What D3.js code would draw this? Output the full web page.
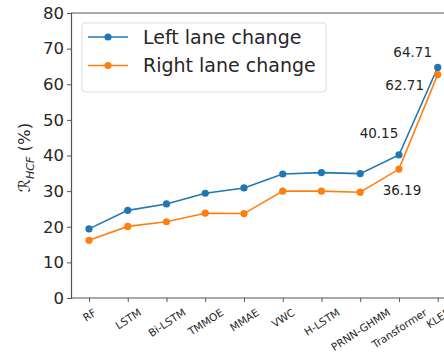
<!DOCTYPE html>
<html>
<head>
<meta charset="utf-8">
<script src="https://cdn.jsdelivr.net/npm/d3@7"></script>
<style>
  html, body { margin: 0; padding: 0; background: #fff; }
  svg { display: block; font-family: "DejaVu Sans", sans-serif; }
</style>
</head>
<body>
<svg id="chart" width="444" height="355"></svg>
<script>
// Methods along the x axis
const methods = ["RF", "LSTM", "Bi-LSTM", "TMMOE", "MMAE", "VWC", "H-LSTM", "PRNN-GHMM", "Transformer", "KLEP"];
// R_HCF (%) per method
const leftLane  = [19.4, 24.6, 26.4, 29.4, 30.9, 34.8, 35.2, 34.9, 40.15, 64.71];
const rightLane = [16.2, 20.1, 21.4, 23.8, 23.7, 30.0, 30.0, 29.7, 36.19, 62.71];
const yTicks = [0, 10, 20, 30, 40, 50, 60, 70, 80];
const seriesNames = ["Left lane change", "Right lane change"];
const seriesColors = ["#1f77b4", "#ff7f0e"];

const svg = d3.select("#chart");
const plot = { left: 71, right: 476, top: 13, bottom: 298 };

const x = d3.scalePoint().domain(methods).range([89, 437.7]);
const y = d3.scaleLinear().domain([0, 80]).range([plot.bottom, plot.top]);

const ink = "#262626";

// Y axis
const yAxis = svg.append("g")
  .attr("transform", `translate(${plot.left},0)`)
  .call(d3.axisLeft(y).tickValues(yTicks).tickSize(4).tickPadding(3));
yAxis.select(".domain").attr("stroke", "#555").attr("stroke-width", 1.2);
yAxis.selectAll(".tick line").attr("stroke", "#555");
yAxis.selectAll(".tick text").attr("font-size", 16.5).attr("fill", ink)
  .attr("font-family", "DejaVu Sans, sans-serif");

// X axis with slanted labels, each label's box centred under its tick
const angle = 33;
const rad = angle * Math.PI / 180;
const xFont = 10.5;
const xAxis = svg.append("g")
  .attr("transform", `translate(0,${plot.bottom})`)
  .call(d3.axisBottom(x).tickSize(4).tickPadding(3));
xAxis.select(".domain").remove();
xAxis.selectAll(".tick line").attr("stroke", "#555");
xAxis.selectAll(".tick text")
  .attr("font-size", xFont).attr("fill", ink)
  .attr("font-family", "DejaVu Sans, sans-serif")
  .attr("text-anchor", "middle")
  .attr("y", 0).attr("dy", "0.35em")
  .each(function () {
    const L = this.getComputedTextLength();
    const h = xFont * 0.75;
    const H = L * Math.sin(rad) + h * Math.cos(rad);
    d3.select(this).attr("transform", `translate(0,${10 + H / 2}) rotate(${-angle})`);
  });

// Bottom and top spines
svg.append("line").attr("x1", plot.left).attr("x2", plot.right)
  .attr("y1", plot.bottom).attr("y2", plot.bottom)
  .attr("stroke", "#555").attr("stroke-width", 1.2);
svg.append("line").attr("x1", plot.left).attr("x2", plot.right)
  .attr("y1", plot.top).attr("y2", plot.top)
  .attr("stroke", "#555").attr("stroke-width", 1.2);

// Y axis title: script R with subscript HCF
const yt = svg.append("text")
  .attr("transform", `translate(30,${(plot.top + plot.bottom) / 2 + 2}) rotate(-90)`)
  .attr("text-anchor", "middle")
  .attr("font-size", 16.5).attr("fill", ink);
yt.append("tspan").attr("font-style", "italic").text("\u211B");
yt.append("tspan").attr("font-style", "italic").attr("font-size", 11).attr("dy", 4).text("HCF");
yt.append("tspan").attr("dy", -4).text(" (%)");

// Series lines and markers
const line = d3.line().x((d, i) => x(methods[i])).y(d => y(d));
[leftLane, rightLane].forEach((vals, k) => {
  svg.append("path").datum(vals)
    .attr("d", line).attr("fill", "none")
    .attr("stroke", seriesColors[k]).attr("stroke-width", 1.6);
  svg.append("g").selectAll("circle").data(vals).join("circle")
    .attr("cx", (d, i) => x(methods[i])).attr("cy", d => y(d))
    .attr("r", 3.6).attr("fill", seriesColors[k]);
});

// Value annotations for the last two methods
const fmt = d3.format(".2f");
const notes = [
  { series: leftLane,  idx: 9, dx: -25, dy: -15 },
  { series: rightLane, idx: 9, dx: -33, dy: 10.5 },
  { series: leftLane,  idx: 8, dx: -20, dy: -22 },
  { series: rightLane, idx: 8, dx: 3,   dy: 21 }
];
notes.forEach(n => {
  const v = n.series[n.idx];
  svg.append("text")
    .attr("x", x(methods[n.idx]) + n.dx)
    .attr("y", y(v) + n.dy)
    .attr("text-anchor", "middle").attr("dy", "0.36em")
    .attr("font-size", 13.5).attr("fill", ink)
    .text(fmt(v));
});

// Legend
const lg = svg.append("g");
lg.append("rect").attr("x", 82).attr("y", 23).attr("width", 244).attr("height", 69)
  .attr("rx", 3).attr("fill", "#fff").attr("stroke", "#ddd").attr("stroke-width", 1);
seriesNames.forEach((name, k) => {
  const cy = 37 + k * 28.5;
  lg.append("line").attr("x1", 88).attr("x2", 128).attr("y1", cy).attr("y2", cy)
    .attr("stroke", seriesColors[k]).attr("stroke-width", 1.6);
  lg.append("circle").attr("cx", 108).attr("cy", cy).attr("r", 3.6).attr("fill", seriesColors[k]);
  lg.append("text").attr("x", 143).attr("y", cy).attr("dy", "0.36em")
    .attr("font-size", 19).attr("fill", ink).text(name);
});
</script>
</body>
</html>
